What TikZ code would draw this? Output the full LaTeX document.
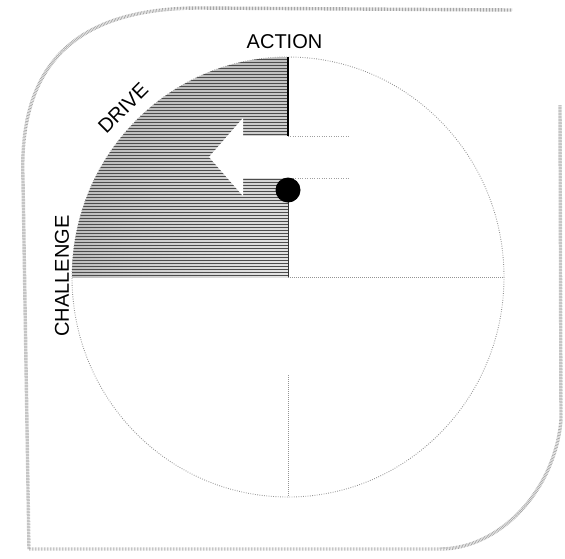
\documentclass[tikz,border=0pt]{standalone}
\usepackage{fontspec}
\setmainfont{Liberation Sans}
\usetikzlibrary{patterns}
\pgfdeclareradialshading{sectshade}{\pgfpoint{0bp}{0bp}}{color(0bp)=(gray!20); color(18bp)=(gray!40); color(35bp)=(gray!68); color(50bp)=(gray!80); color(100bp)=(gray!80)}
\tikzset{
  lab/.style={font=\fontsize{20}{20}\selectfont, inner sep=0pt},
  border/.style={draw=gray!70, line width=3.4pt, dash pattern=on 0.7pt off 0.8pt},
  circ/.style={draw=gray!85, line width=0.9pt, dash pattern=on 0.8pt off 1.5pt},
  axis/.style={draw=gray!85, line width=0.9pt, dash pattern=on 0.8pt off 1.2pt},
  shaftedge/.style={draw=gray!75, line width=0.8pt, dash pattern=on 0.8pt off 1.6pt},
}
\begin{document}
\begin{tikzpicture}[x=1pt,y=-1pt]
\useasboundingbox (0,0) rectangle (565,558);
% outer frame
\coordinate (bl) at (29,549);
\coordinate (bb) at (440,549);
\coordinate (rr) at (561,420);
\coordinate (rt) at (560,105);
\coordinate (ll) at (23,180);
\coordinate (tt) at (200,8);
\coordinate (te) at (512,10);
\draw[border] (bl) -- (bb) .. controls (500,549) and (555,490) .. (rr) -- (rt);
\draw[border] (bl) -- (ll) .. controls (18,60) and (80,8) .. (tt) -- (te);
% circle
\coordinate (C) at (288,277);
\draw[circ] (C) ellipse [x radius=216, y radius=220];
% shaded quadrant
\begin{scope}
  \clip (C) ellipse [x radius=216, y radius=220];
  \clip (72,57) rectangle (288,277);
  \shade[shading=sectshade] (C) ellipse [x radius=216, y radius=220];
  \fill[pattern=horizontal lines, pattern color=black!70] (72,57) rectangle (288,277);
\end{scope}
% arrow
\coordinate (tip) at (209,157);
\coordinate (ht) at (243,118);
\coordinate (hb) at (243,196);
\coordinate (st) at (243,136);
\coordinate (sb) at (243,178);
\coordinate (et) at (350,136);
\coordinate (eb) at (350,178);
\coordinate (vt) at (288,136);
\coordinate (vb) at (288,178);
\fill[white] (tip) -- (ht) -- (st) -- (et) -- (eb) -- (sb) -- (hb) -- cycle;
\draw[shaftedge] (vt) -- (et);
\draw[shaftedge] (vb) -- (eb);
% axes
\coordinate (top) at (288,57);
\coordinate (dotc) at (288,190);
\coordinate (low) at (288,202);
\coordinate (right) at (504,277);
\coordinate (bot1) at (288,375);
\coordinate (bot2) at (288,497);
\draw[black, line width=1.3pt] (top) -- (vt);
\draw[black!80, line width=0.7pt] (low) -- (C);
\draw[axis] (C) -- (right);
\draw[axis] (bot1) -- (bot2);
\fill[black] (dotc) circle (12.5);
% labels
\node[lab] (action) at (284.5,42) {ACTION};
\node[lab, rotate=45] (drive) at (123,108) {DRIVE};
\node[lab, rotate=90] (challenge) at (62,276) {CHALLENGE};
\end{tikzpicture}
\end{document}
